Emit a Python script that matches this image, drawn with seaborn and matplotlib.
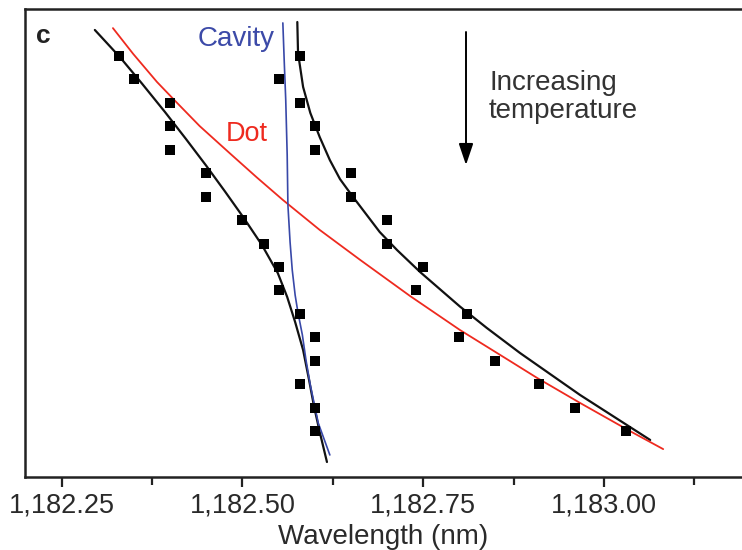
import matplotlib
matplotlib.use("Agg")
import matplotlib.pyplot as plt
from matplotlib.patches import FancyArrowPatch
from matplotlib.ticker import FixedLocator, FuncFormatter
import pandas as pd
import seaborn as sns

# Temperature steps (K) and the two measured resonance branches (nm)
temperature = [10, 11, 12, 13, 14, 15, 16, 17, 18, 19, 20, 21, 22, 23, 24, 25, 26]
lower_branch_nm = [1182.33, 1182.35, 1182.40, 1182.40, 1182.40, 1182.45, 1182.45,
                   1182.50, 1182.53, 1182.55, 1182.55, 1182.58, 1182.60, 1182.60,
                   1182.58, 1182.60, 1182.60]
upper_branch_nm = [1182.58, 1182.55, 1182.58, 1182.60, 1182.60, 1182.65, 1182.65,
                   1182.70, 1182.70, 1182.75, 1182.74, 1182.81, 1182.80, 1182.85,
                   1182.91, 1182.96, 1183.03]

# Fitted coupled-mode curves (wavelength nm, temperature K)
fit_lower_nm = [1182.296, 1182.331, 1182.361, 1182.393, 1182.422, 1182.450, 1182.476,
                1182.502, 1182.527, 1182.549, 1182.562, 1182.573, 1182.584, 1182.592,
                1182.599, 1182.607, 1182.617]
fit_lower_T = [8.89, 10.06, 11.17, 12.39, 13.54, 14.68, 15.78,
               16.91, 18.06, 19.26, 20.28, 21.35, 22.54, 23.78,
               24.93, 26.04, 27.32]
fit_upper_nm = [1182.576, 1182.577, 1182.584, 1182.594, 1182.607, 1182.621, 1182.635,
                1182.652, 1182.690, 1182.714, 1182.746, 1182.801, 1182.838, 1182.884,
                1182.967, 1183.064]
fit_upper_T = [8.55, 9.87, 11.32, 12.43, 13.46, 14.44, 15.25,
               15.97, 17.51, 18.28, 19.22, 20.69, 21.60, 22.67,
               24.46, 26.38]

# Uncoupled dot and cavity modes
dot_nm = [1182.321, 1182.349, 1182.382, 1182.410, 1182.441, 1182.483, 1182.520,
          1182.556, 1182.607, 1182.663, 1182.732, 1182.801, 1182.870, 1182.908,
          1182.967, 1183.036, 1183.082]
dot_T = [8.81, 9.91, 11.11, 12.01, 12.99, 14.16, 15.18,
         16.14, 17.42, 18.70, 20.24, 21.69, 23.01, 23.74,
         24.80, 26.00, 26.77]
cavity_nm = [1182.556, 1182.558, 1182.560, 1182.562, 1182.563, 1182.566, 1182.569,
             1182.573, 1182.577, 1182.583, 1182.588, 1182.594, 1182.605, 1182.621]
cavity_T = [8.59, 10.30, 11.88, 14.22, 16.36, 17.94, 19.13,
            20.20, 20.96, 21.90, 22.97, 24.04, 25.66, 27.02]

major_ticks = [1182.25, 1182.50, 1182.75, 1183.00]
minor_ticks = [1182.375, 1182.625, 1182.875, 1183.125]

sns.set_style("white")
plt.rcParams["font.family"] = ["Liberation Sans", "DejaVu Sans"]

W, H = 742, 550
fig = plt.figure(figsize=(W / 100, H / 100), dpi=100)
ax = fig.add_axes([25 / W, 1 - 477 / H, 1 - 25 / W, (477 - 9) / H])

points = pd.DataFrame({
    "wavelength": lower_branch_nm + upper_branch_nm,
    "temperature": temperature + temperature,
})
sns.scatterplot(data=points, x="wavelength", y="temperature", marker="s",
                s=50, color="black", linewidth=0, ax=ax, zorder=4)

curves = [
    (fit_lower_nm, fit_lower_T, "#111111", 1.6),
    (fit_upper_nm, fit_upper_T, "#111111", 1.6),
    (dot_nm, dot_T, "#ee2a1f", 1.3),
    (cavity_nm, cavity_T, "#3848a8", 1.2),
]
for xs, ts, col, lw in curves:
    df = pd.DataFrame({"wavelength": xs, "temperature": ts})
    sns.lineplot(data=df, x="wavelength", y="temperature", sort=False,
                 estimator=None, color=col, linewidth=lw, ax=ax, zorder=3)

ax.set_xlim(1182.1994, 1183.191)
ax.set_ylim(27.96, 7.995)
ax.xaxis.set_major_locator(FixedLocator(major_ticks))
ax.xaxis.set_minor_locator(FixedLocator(minor_ticks))
ax.xaxis.set_major_formatter(FuncFormatter(lambda v, p: f"{v:,.2f}"))
ax.set_yticks([])
ax.set_ylabel("")
ax.set_xlabel("Wavelength (nm)", fontsize=20, color="#2a2a2a", labelpad=4)
ax.tick_params(axis="x", which="major", direction="out", length=7, width=1.6,
               color="#222222", labelsize=19.5, labelcolor="#2a2a2a", pad=4,
               bottom=True)
ax.tick_params(axis="x", which="minor", direction="out", length=6, width=1.6,
               color="#222222", bottom=True)
for side in ["left", "top", "bottom"]:
    ax.spines[side].set_visible(True)
    ax.spines[side].set_color("#222222")
    ax.spines[side].set_linewidth(1.8)
ax.spines["right"].set_visible(False)


def fx(px):
    return px / W


def fy(py):
    return 1 - py / H


fig.text(fx(36), fy(43), "c", fontsize=19, fontweight="bold", color="#222222", va="baseline")
fig.text(fx(198), fy(46), "Cavity", fontsize=20, color="#3c4aa8", va="baseline")
fig.text(fx(226), fy(141), "Dot", fontsize=19.5, color="#ee2a1f", va="baseline")
fig.text(fx(489), fy(90), "Increasing", fontsize=20, color="#333333", va="baseline")
fig.text(fx(489), fy(118), "temperature", fontsize=20, color="#333333", va="baseline")
fig.add_artist(FancyArrowPatch(
    (fx(466), fy(32)), (fx(466), fy(165)), transform=fig.transFigure,
    arrowstyle="-|>,head_length=0.65,head_width=0.22", mutation_scale=20,
    color="black", linewidth=1.4, shrinkA=0, shrinkB=0))

fig.savefig("out.png", dpi=100)
